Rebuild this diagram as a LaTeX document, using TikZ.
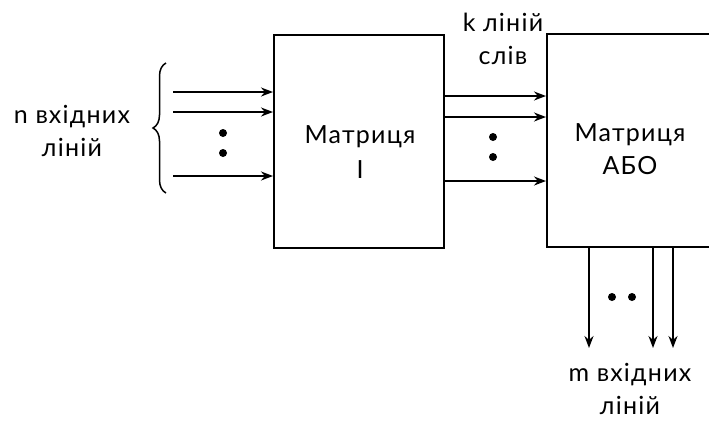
\documentclass[tikz,border=0pt]{standalone}
\usepackage{fontspec}
\setmainfont{Lato}[LetterSpace=5]
\usetikzlibrary{arrows.meta,decorations.pathreplacing}
\begin{document}
\begin{tikzpicture}[x=1pt,y=-1pt,
  blk/.style={draw,line width=2pt},
  sig/.style={line width=1.8pt,-{Stealth[length=12pt,width=9pt]}},
  lbl/.style={font=\fontsize{25}{29}\selectfont,align=center,inner sep=0pt},
  dotc/.style={fill,circle,inner sep=0pt,minimum size=8pt}]
\useasboundingbox (0,0) rectangle (709,421);
\begin{scope}
\clip (0,0) rectangle (709,421);
\node[blk,minimum width=170pt,minimum height=213pt,inner sep=0pt] (m1) at (359,141) {};
\node[blk,minimum width=180pt,minimum height=213pt,inner sep=0pt,anchor=north west] (m2) at (546,33) {};
\end{scope}
\node[lbl] (t1) at (360,152) {Матриця\\[6pt]I};
\node[lbl] (t2) at (630,149) {Матриця\\[4pt]АБО};
% inputs
\coordinate (i1) at (173,92);
\coordinate (i2) at (173,112);
\coordinate (i3) at (173,176);
\draw[sig] (i1) -- (i1 -| m1.west);
\draw[sig] (i2) -- (i2 -| m1.west);
\draw[sig] (i3) -- (i3 -| m1.west);
\node[dotc] (d1) at (223,133) {};
\node[dotc] (d2) at (223,153) {};
\coordinate (b1) at (166,193);
\coordinate (b2) at (166,63);
\draw[line width=1.5pt,decorate,decoration={brace,amplitude=13pt}] (b1) -- (b2);
\node[lbl] (nin) at (72,131) {n вхідних\\[4pt]ліній};
% middle
\coordinate (o1) at (444,96);
\coordinate (o2) at (444,117);
\coordinate (o3) at (444,181);
\draw[sig] (o1) -- (o1 -| m2.west);
\draw[sig] (o2) -- (o2 -| m2.west);
\draw[sig] (o3) -- (o3 -| m2.west);
\node[dotc] (d3) at (493,137) {};
\node[dotc] (d4) at (493,157) {};
\node[lbl] (kl) at (503,39) {k ліній\\[4pt]слів};
% outputs
\coordinate (e1) at (589,348);
\coordinate (e2) at (653,348);
\coordinate (e3) at (673,348);
\draw[sig] (e1 |- m2.south) -- (e1);
\draw[sig] (e2 |- m2.south) -- (e2);
\draw[sig] (e3 |- m2.south) -- (e3);
\node[dotc] (d5) at (612,297) {};
\node[dotc] (d6) at (632,297) {};
\node[lbl] (mout) at (630,389) {m вхідних\\[4pt]ліній};
\end{tikzpicture}
\end{document}
